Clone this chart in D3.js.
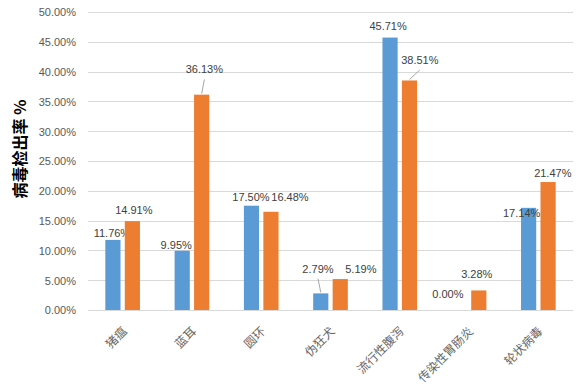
<!DOCTYPE html>
<html><head><meta charset="utf-8">
<script src="https://cdn.jsdelivr.net/npm/d3@7"></script>
<style>body{margin:0;background:#fff}svg{display:block}</style>
</head><body>
<svg id="c" width="584" height="391"></svg>
<script>
const categories = ["猪瘟","蓝耳","圆环","伪狂犬","流行性腹泻","传染性胃肠炎","轮状病毒"];
const seriesNames = ["s1","s2"];
const series1 = [11.76, 9.95, 17.50, 2.79, 45.71, 0.00, 17.14];
const series2 = [14.91, 36.13, 16.48, 5.19, 38.51, 3.28, 21.47];
const yTicks = [0,5,10,15,20,25,30,35,40,45,50];
const yTitle = "病毒检出率 %";
const colors = ["#5B9BD5","#ED7D31"];
// label placement offsets (dx, dy from bar top centre, px) and leader flags
const labelOffsets1 = [[-1,-3],[-6,-1.7],[-0.5,-4.7],[-2.8,-20.7],[-2,-7.6],[-11.4,-11.7],[-7,9.2]];
const labelOffsets2 = [[1.5,-7],[2.7,-21.2],[19,-10.8],[20.6,-6.4],[10.3,-16.5],[-2,-12.2],[4.7,-5]];
const leaders1 = [false,false,false,true,false,false,false];
const leaders2 = [false,true,false,false,true,false,false];

const svg = d3.select("#c");
const m = {left:88, right:573, top:12, bottom:310};
const x0 = d3.scaleBand().domain(categories).range([m.left, m.right]).padding(0);
const bw = x0.bandwidth();
const x1 = d3.scaleBand().domain(seriesNames).range([bw*0.25, bw*0.75]).paddingInner(0.22);
const y = d3.scaleLinear().domain([0,50]).range([m.bottom, m.top]);

// gridlines
svg.append("g").selectAll("line").data(yTicks).join("line")
  .attr("x1", m.left).attr("x2", m.right)
  .attr("y1", d=>Math.round(y(d))+0.5).attr("y2", d=>Math.round(y(d))+0.5)
  .attr("stroke", "#d9d9d9").attr("stroke-width", 1);

// y axis labels
const yAxis = d3.axisLeft(y).tickValues(yTicks).tickFormat(d=>d.toFixed(2)+"%").tickSize(0).tickPadding(0);
const ga = svg.append("g").attr("transform","translate(76,0)").call(yAxis);
ga.select(".domain").remove();
ga.selectAll("text").attr("font-family","Liberation Sans, Arial, sans-serif").attr("font-size","11px").attr("fill","#595959").attr("dy","0.35em");

// x axis labels
const xAxis = d3.axisBottom(x0).tickSize(0).tickPadding(0);
const gx = svg.append("g").attr("transform",`translate(0,${m.bottom})`).call(xAxis);
gx.select(".domain").remove();
gx.selectAll("text")
  .attr("font-family","Noto Sans CJK SC, sans-serif").attr("font-size","12px").attr("fill","#666")
  .attr("text-anchor","end").attr("dy",null).attr("y",null)
  .attr("transform","translate(5,22) rotate(-45)");

// y title
svg.append("text").attr("transform","translate(25.5,149) rotate(-90)")
  .attr("text-anchor","middle").attr("font-family","Noto Sans CJK SC, sans-serif")
  .attr("font-weight","bold").attr("font-size","16px").attr("fill","#000").text(yTitle);

const all = [series1, series2];
const offs = [labelOffsets1, labelOffsets2];
const leads = [leaders1, leaders2];
all.forEach((vals, si) => {
  const g = svg.append("g");
  const rows = categories.map((c,i)=>({c, v: vals[i], i}));
  g.selectAll("rect").data(rows).join("rect")
    .attr("x", d=>x0(d.c)+x1(seriesNames[si]))
    .attr("width", x1.bandwidth())
    .attr("y", d=>y(d.v)).attr("height", d=>y(0)-y(d.v))
    .attr("fill", colors[si]);
  const cx = d => x0(d.c)+x1(seriesNames[si])+x1.bandwidth()/2;
  g.selectAll("line.lead").data(rows.filter(d=>leads[si][d.i])).join("line")
    .attr("class","lead")
    .attr("x1", d=>cx(d)+offs[si][d.i][0]).attr("y1", d=>y(d.v)+offs[si][d.i][1]+6)
    .attr("x2", d=>cx(d)).attr("y2", d=>y(d.v)-1)
    .attr("stroke","#a6a6a6").attr("stroke-width",1);
  g.selectAll("text").data(rows).join("text")
    .attr("x", d=>cx(d)+offs[si][d.i][0]).attr("y", d=>y(d.v)+offs[si][d.i][1])
    .attr("text-anchor","middle").attr("font-family","Liberation Sans, Arial, sans-serif")
    .attr("font-size","11px").attr("fill","#404040").text(d=>d.v.toFixed(2)+"%");
});
</script>
</body></html>
